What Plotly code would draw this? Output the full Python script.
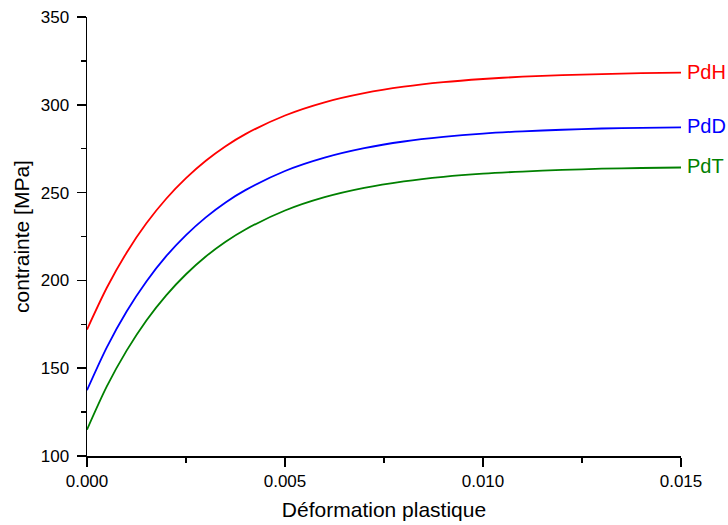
import plotly.graph_objects as go

strain = [0.0, 0.0005, 0.001, 0.0015, 0.002, 0.0025, 0.003, 0.0035, 0.004, 0.005,
          0.006, 0.007, 0.008, 0.009, 0.010, 0.011, 0.012, 0.013, 0.014, 0.015]
pdh = [172.0, 195.8, 215.8, 232.5, 246.5, 258.2, 268.1, 276.4, 283.3, 293.9,
       301.4, 306.6, 310.3, 312.9, 314.7, 316.0, 316.9, 317.5, 318.0, 318.3]
pdd = [137.5, 161.9, 182.3, 199.4, 213.8, 225.8, 235.9, 244.4, 251.4, 262.3,
       269.9, 275.3, 279.1, 281.7, 283.6, 284.9, 285.8, 286.5, 286.9, 287.2]
pdt = [115.0, 139.6, 160.0, 177.2, 191.5, 203.5, 213.6, 222.0, 229.0, 239.8,
       247.4, 252.7, 256.4, 259.0, 260.8, 262.0, 262.9, 263.6, 264.0, 264.3]

series = [("PdH", pdh, "#ff0000"), ("PdD", pdd, "#0000ff"), ("PdT", pdt, "#008000")]

x_ticks = [0.0, 0.005, 0.010, 0.015]
x_labels = ["0.000", "0.005", "0.010", "0.015"]
y_ticks = [100, 150, 200, 250, 300, 350]

FONT = "Liberation Sans, Arial, sans-serif"

fig = go.Figure()
for name, vals, col in series:
    fig.add_trace(go.Scatter(x=strain, y=vals, mode="lines", name=name,
                             line=dict(color=col, width=1.8, shape="spline", smoothing=0.8),
                             showlegend=False, hoverinfo="skip"))
    fig.add_annotation(x=strain[-1], y=vals[-1], xref="x", yref="y", text=name,
                       showarrow=False, xanchor="left", yanchor="middle", xshift=4, yshift=1,
                       font=dict(family=FONT, size=20, color=col))

axis_common = dict(showgrid=False, zeroline=False, showline=True, linecolor="black",
                   linewidth=1.5, ticks="outside", ticklen=9, tickwidth=1.5,
                   tickcolor="black", tickfont=dict(family=FONT, size=17, color="black"),
                   mirror=False, automargin=False)

fig.update_xaxes(range=[0, 0.015], tickvals=x_ticks, ticktext=x_labels,
                 minor=dict(dtick=0.0025, ticklen=5, tickwidth=1.5, tickcolor="black", ticks="outside", showgrid=False),
                 title=dict(text="Déformation plastique", font=dict(family=FONT, size=21, color="black"), standoff=12),
                 **axis_common)
fig.update_yaxes(range=[100, 350], tickvals=y_ticks, ticklabelstandoff=4,
                 minor=dict(dtick=25, ticklen=5, tickwidth=1.5, tickcolor="black", ticks="outside", showgrid=False),
                 title=dict(text="contrainte [MPa]", font=dict(family=FONT, size=21, color="black"), standoff=5),
                 **axis_common)

fig.update_layout(width=728, height=525, plot_bgcolor="white", paper_bgcolor="white",
                  margin=dict(l=87, r=47, t=17, b=69, pad=0), font=dict(family=FONT))

fig.write_html("out.html", config={"displayModeBar": False, "staticPlot": True},
               post_script="document.body.style.margin='0';document.body.style.padding='0';")
